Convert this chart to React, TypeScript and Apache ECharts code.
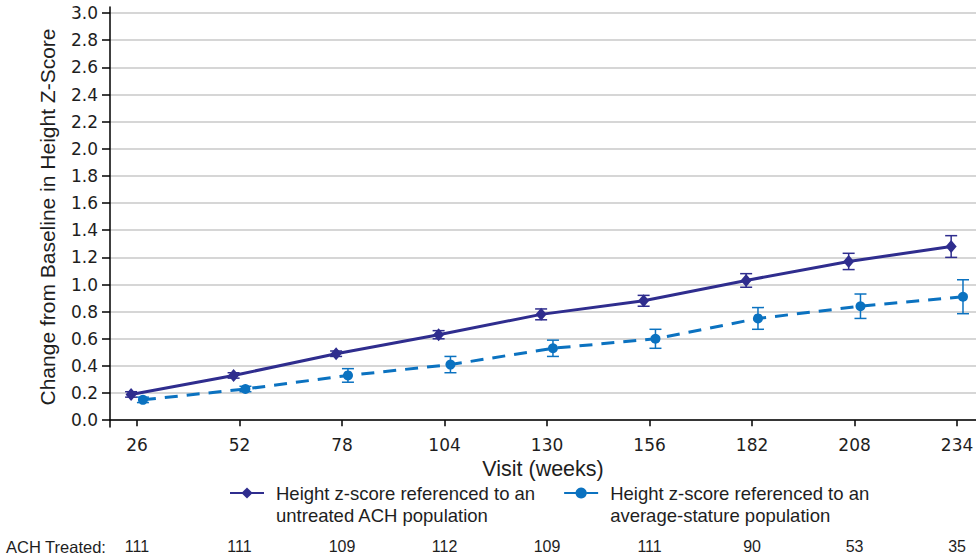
import React, { useEffect, useRef } from "react";
import * as echarts from "echarts";

// Visit weeks (x positions) and patients treated at each visit
const weeks = [26, 52, 78, 104, 130, 156, 182, 208, 234];
const achTreated = [111, 111, 109, 112, 109, 111, 90, 53, 35];

// Mean change from baseline in height z-score, with error half-widths
const untreatedRef = [0.19, 0.33, 0.49, 0.63, 0.78, 0.88, 1.03, 1.17, 1.28];
const untreatedErr = [0.02, 0.02, 0.02, 0.03, 0.04, 0.04, 0.05, 0.06, 0.08];
const averageRef = [0.15, 0.23, 0.33, 0.41, 0.53, 0.6, 0.75, 0.84, 0.91];
const averageErr = [0.02, 0.02, 0.05, 0.06, 0.06, 0.07, 0.08, 0.09, 0.125];

// Y-axis tick values
const yTicks = [0, 0.2, 0.4, 0.6, 0.8, 1.0, 1.2, 1.4, 1.6, 1.8, 2.0, 2.2, 2.4, 2.6, 2.8, 3.0];

const NAME_UNTREATED = "Height z-score referenced to an\nuntreated ACH population";
const NAME_AVERAGE = "Height z-score referenced to an\naverage-stature population";

const NAVY = "#2f2d8e";
const BLUE = "#0b72c0";
const FONT = "'Liberation Sans', Arial, Helvetica, sans-serif";
const TICK_FONT = "'DejaVu Sans', 'Liberation Sans', sans-serif";
const TEXT = "#1e1e1e";
const SHIFT = 1.5; // horizontal dodge (weeks) between the two series

function errorSeries(values: number[], errs: number[], shift: number, color: string) {
  return {
    type: "custom",
    silent: true,
    z: 1,
    data: weeks.map((w, i) => [w + shift, values[i] - errs[i], values[i] + errs[i]]),
    renderItem: (_params: any, api: any) => {
      const x = api.value(0);
      const top = api.coord([x, api.value(2)]);
      const bot = api.coord([x, api.value(1)]);
      const hw = 6;
      const style = { stroke: color, lineWidth: 1.5 };
      return {
        type: "group",
        children: [
          { type: "line", shape: { x1: top[0], y1: top[1], x2: bot[0], y2: bot[1] }, style },
          { type: "line", shape: { x1: top[0] - hw, y1: top[1], x2: top[0] + hw, y2: top[1] }, style },
          { type: "line", shape: { x1: bot[0] - hw, y1: bot[1], x2: bot[0] + hw, y2: bot[1] }, style },
        ],
      };
    },
  };
}

export default function App() {
  const ref = useRef<HTMLDivElement>(null);

  useEffect(() => {
    if (!ref.current) return;
    const chart = echarts.init(ref.current, undefined, { renderer: "svg" });

    const option: any = {
      animation: false,
      backgroundColor: "#ffffff",
      textStyle: { fontFamily: FONT },
      grid: { left: 110, right: 0, top: 7, bottom: 129, outerBoundsMode: "none" },
      legend: {
        left: 229,
        top: 460,
        padding: 0,
        orient: "horizontal",
        itemGap: 28,
        itemWidth: 34,
        itemHeight: 14,
        selectedMode: false,
        data: [NAME_UNTREATED, NAME_AVERAGE],
        // leading blank line keeps the first text line level with the icon
        formatter: (name: string) => "\n" + name,
        textStyle: {
          fontFamily: FONT,
          fontSize: 18.5,
          lineHeight: 22,
          color: TEXT,
          padding: [0, 0, 0, 7],
        },
      },
      xAxis: [
        {
          type: "value",
          min: 19.15,
          max: 238.8,
          name: "Visit (weeks)",
          nameLocation: "middle",
          nameGap: 29,
          nameTextStyle: { fontFamily: FONT, fontSize: 21.5, color: TEXT },
          axisLine: { show: true, lineStyle: { color: "#000", width: 1.5 } },
          axisTick: { show: true, length: 6, customValues: weeks, lineStyle: { color: "#000", width: 1.5 } },
          axisLabel: { customValues: weeks, margin: 9, fontFamily: TICK_FONT, fontSize: 17, color: TEXT },
          splitLine: { show: false },
        },
        {
          type: "value",
          min: 19.15,
          max: 238.8,
          position: "bottom",
          offset: 100,
          axisLine: { show: false },
          axisTick: { show: false },
          splitLine: { show: false },
          axisLabel: {
            customValues: weeks,
            margin: 11,
            fontFamily: FONT,
            fontSize: 16,
            color: TEXT,
            formatter: (v: number) => {
              const i = weeks.indexOf(v);
              return i >= 0 ? String(achTreated[i]) : "";
            },
          },
        },
      ],
      yAxis: {
        type: "value",
        min: -0.05,
        max: 3.045,
        name: "Change from Baseline in Height Z-Score",
        nameLocation: "middle",
        nameGap: 52,
        nameTextStyle: { fontFamily: FONT, fontSize: 21, color: TEXT },
        axisLine: { show: true, lineStyle: { color: "#000", width: 1.5 } },
        axisTick: { show: true, length: 8, customValues: yTicks, lineStyle: { color: "#000", width: 1.5 } },
        axisLabel: {
          customValues: yTicks,
          margin: 12,
          fontFamily: TICK_FONT,
          fontSize: 17,
          color: TEXT,
          formatter: (v: number) => v.toFixed(1),
        },
        splitLine: { show: true, lineStyle: { color: "#c8c8c8", width: 1.5 } },
      },
      graphic: [
        {
          type: "text",
          left: 6,
          top: 538,
          style: { text: "ACH Treated:", fontFamily: FONT, fontSize: 16.5, fill: TEXT },
        },
      ],
      series: [
        errorSeries(untreatedRef, untreatedErr, -SHIFT, NAVY),
        errorSeries(averageRef, averageErr, SHIFT, BLUE),
        {
          name: NAME_UNTREATED,
          type: "line",
          z: 3,
          data: weeks.map((w, i) => [w - SHIFT, untreatedRef[i]]),
          symbol: "diamond",
          symbolSize: [11, 13],
          lineStyle: { color: NAVY, width: 3 },
          itemStyle: { color: NAVY },
        },
        {
          name: NAME_AVERAGE,
          type: "line",
          z: 2,
          data: weeks.map((w, i) => [w + SHIFT, averageRef[i]]),
          symbol: "circle",
          symbolSize: 10,
          lineStyle: { color: BLUE, width: 3, type: [13, 9] },
          itemStyle: { color: BLUE },
        },
      ],
    };

    chart.setOption(option);
    return () => chart.dispose();
  }, []);

  return (
    <div
      ref={ref}
      style={{ position: "fixed", left: 0, top: 0, width: 976, height: 556, background: "#fff" }}
    />
  );
}
